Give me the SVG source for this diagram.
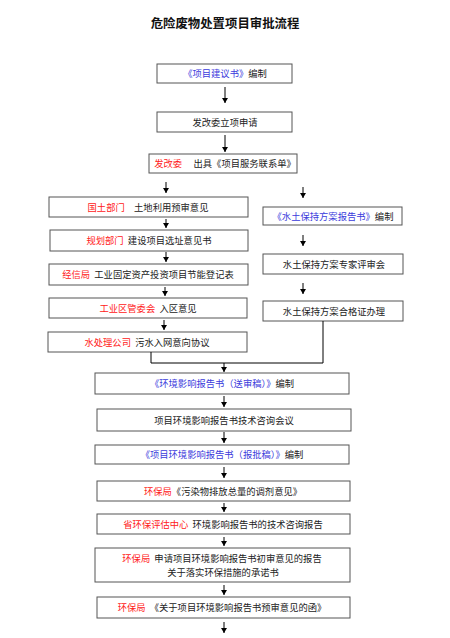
<svg xmlns="http://www.w3.org/2000/svg" width="450" height="638" viewBox="0 0 450 638" xml:space="preserve">
<style>
.bx{fill:#fff;stroke:#555;stroke-width:1}
.t{font-family:"Noto Sans CJK SC","Noto Sans",sans-serif;font-size:9.3px;fill:#222;text-anchor:middle;white-space:pre}
.r{fill:#ff2020}
.b{fill:#3b3bdc}
.ttl{font-family:"Noto Sans CJK SC","Noto Sans",sans-serif;font-size:12.4px;font-weight:bold;fill:#111;text-anchor:middle}
.ln{fill:none;stroke:#000;stroke-width:1}
</style>
<defs>
<marker id="ah" markerUnits="userSpaceOnUse" markerWidth="6" markerHeight="6" refX="5" refY="3" orient="auto">
<path d="M0,0 L5,3 L0,6 Z" fill="#000"/>
</marker>
</defs>
<rect width="450" height="638" fill="#fff"/>
<text class="ttl" x="225" y="28">危险废物处置项目审批流程</text>

<g id="n1"><rect class="bx" x="157" y="64" width="135" height="19"/><text class="t" x="225" y="77"><tspan class="b">《项目建议书》</tspan>编制</text></g>
<g id="n2"><rect class="bx" x="157" y="112" width="135" height="20"/><text class="t" x="225" y="125.5">发改委立项申请</text></g>
<g id="n3"><rect class="bx" x="149" y="154" width="148" height="19"/><text class="t" x="225" y="167"><tspan class="r">发改委</tspan>　 出具《项目服务联系单》</text></g>

<g id="l1"><rect class="bx" x="49" y="197" width="199" height="20"/><text class="t" x="148" y="210.5"><tspan class="r">国土部门</tspan>　土地利用预审意见</text></g>
<g id="l2"><rect class="bx" x="50" y="230" width="198" height="21"/><text class="t" x="149" y="244"><tspan class="r">规划部门</tspan>  建设项目选址意见书</text></g>
<g id="l3"><rect class="bx" x="49" y="264" width="199" height="21"/><text class="t" x="148" y="278"><tspan class="r">经信局</tspan>  工业固定资产投资项目节能登记表</text></g>
<g id="l4"><rect class="bx" x="49" y="298" width="198" height="20"/><text class="t" x="148" y="311.5"><tspan class="r">工业区管委会</tspan>  入区意见</text></g>
<g id="l5"><rect class="bx" x="48" y="332" width="199" height="20"/><text class="t" x="147" y="345.5"><tspan class="r">水处理公司</tspan>  污水入网意向协议</text></g>

<g id="r1"><rect class="bx" x="263" y="207" width="139" height="18"/><text class="t" x="333" y="219.5"><tspan class="b">《水土保持方案报告书》</tspan>编制</text></g>
<g id="r2"><rect class="bx" x="263" y="254" width="140" height="20"/><text class="t" x="334" y="267.5">水土保持方案专家评审会</text></g>
<g id="r3"><rect class="bx" x="263" y="301" width="140" height="20"/><text class="t" x="334" y="314.5">水土保持方案合格证办理</text></g>

<g id="m1"><rect class="bx" x="95" y="373" width="254" height="21"/><text class="t" x="222" y="387"><tspan class="b">《环境影响报告书（送审稿）》</tspan>编制</text></g>
<g id="m2"><rect class="bx" x="97" y="409" width="254" height="22"/><text class="t" x="224" y="423.5">项目环境影响报告书技术咨询会议</text></g>
<g id="m3"><rect class="bx" x="95" y="445" width="254" height="19"/><text class="t" x="222" y="458"><tspan class="b">《项目环境影响报告书（报批稿）》</tspan>编制</text></g>
<g id="m4"><rect class="bx" x="97" y="481" width="253" height="20"/><text class="t" x="223" y="494.5"><tspan class="r">环保局</tspan>《污染物排放总量的调剂意见》</text></g>
<g id="m5"><rect class="bx" x="97" y="514" width="253" height="20"/><text class="t" x="223" y="527.5"><tspan class="r">省环保评估中心</tspan>  环境影响报告书的技术咨询报告</text></g>
<g id="m6"><rect class="bx" x="95" y="548" width="255" height="34"/><text class="t" x="222" y="562.3"><tspan class="r">环保局</tspan>  申请项目环境影响报告书初审意见的报告</text><text class="t" x="223" y="576.3">关于落实环保措施的承诺书</text></g>
<g id="m7"><rect class="bx" x="97" y="597" width="253" height="21"/><text class="t" x="222" y="611"><tspan class="r">环保局</tspan>  《关于项目环境影响报告书预审意见的函》</text></g>

<g id="connectors">
<line class="ln" x1="225" y1="87" x2="225" y2="103" marker-end="url(#ah)"/>
<line class="ln" x1="225" y1="135" x2="225" y2="152" marker-end="url(#ah)"/>
<line class="ln" x1="166" y1="182" x2="166" y2="193" marker-end="url(#ah)"/>
<line class="ln" x1="303" y1="187" x2="303" y2="198" marker-end="url(#ah)"/>
<line class="ln" x1="166" y1="219" x2="166" y2="228" marker-end="url(#ah)"/>
<line class="ln" x1="166" y1="252" x2="166" y2="262" marker-end="url(#ah)"/>
<line class="ln" x1="165" y1="287" x2="165" y2="296" marker-end="url(#ah)"/>
<line class="ln" x1="164" y1="320" x2="164" y2="330" marker-end="url(#ah)"/>
<line class="ln" x1="303" y1="235" x2="303" y2="246" marker-end="url(#ah)"/>
<line class="ln" x1="303" y1="283" x2="303" y2="294" marker-end="url(#ah)"/>
<polyline class="ln" points="151,352 151,363 323,363 323,321"/>
<line class="ln" x1="224" y1="363" x2="224" y2="372" marker-end="url(#ah)"/>
<line class="ln" x1="224" y1="396" x2="224" y2="407" marker-end="url(#ah)"/>
<line class="ln" x1="224" y1="432" x2="224" y2="443" marker-end="url(#ah)"/>
<line class="ln" x1="224" y1="467" x2="224" y2="478" marker-end="url(#ah)"/>
<line class="ln" x1="224" y1="503" x2="224" y2="512" marker-end="url(#ah)"/>
<line class="ln" x1="224" y1="537" x2="224" y2="546" marker-end="url(#ah)"/>
<line class="ln" x1="224" y1="585" x2="224" y2="595" marker-end="url(#ah)"/>
<line class="ln" x1="224" y1="622" x2="224" y2="633" marker-end="url(#ah)"/>
</g>
</svg>
